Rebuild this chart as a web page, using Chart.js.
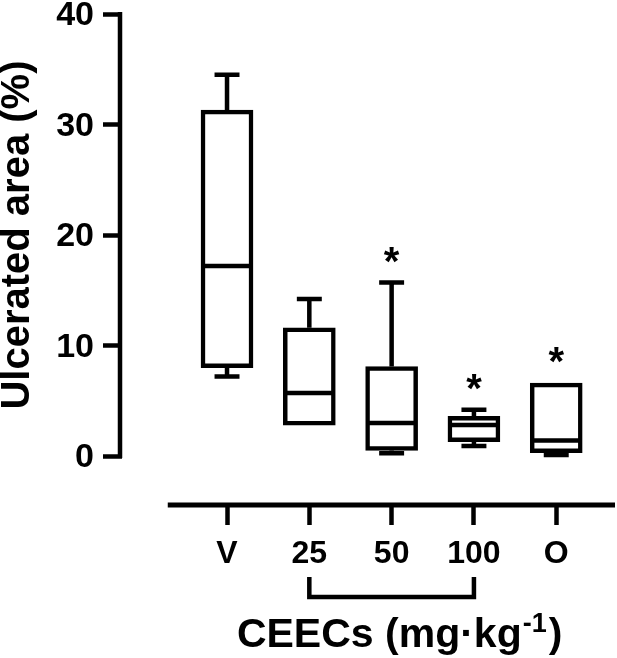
<!DOCTYPE html>
<html>
<head>
<meta charset="utf-8">
<script src="https://cdn.jsdelivr.net/npm/chart.js@4"></script>
<style>
  html, body { margin: 0; padding: 0; background: #fff; }
  #wrap { width: 617px; height: 658px; }
</style>
</head>
<body>
<div id="wrap"><canvas id="c" width="617" height="658"></canvas></div>
<script>
const categories = ['V', '25', '50', '100', 'O'];
const whiskerMax = [34.5, 14.2, 15.7, 4.2, 6.6];
const q3Values = [31.3, 11.6, 8.1, 3.6, 6.6];
const medians = [17.2, 5.7, 3.0, 2.8, 1.4];
const q1Values = [8.0, 2.8, 0.5, 1.3, 0.3];
const whiskerMin = [7.2, 2.8, 0.25, 0.9, 0.1];
const significant = [false, false, true, true, true];
const yTickValues = [0, 10, 20, 30, 40];
const yTitle = 'Ulcerated area (%)';
const xTitleMain = 'CEECs (mg·kg';
const xTitleSup = '-1';
const xTitleEnd = ')';
const bracketGroups = [1, 3];

const FONT = '"Liberation Sans", Arial, Helvetica, sans-serif';
const LW = 4.5;
const Y_MIN = -4.43, Y_MAX = 40;
const X_MIN = -1.276, X_MAX = 4.714, X_AXIS_START = -0.72;

const boxPlugin = {
  id: 'boxPlugin',
  afterDatasetsDraw(chart) {
    const ctx = chart.ctx;
    const xs = chart.scales.x, ys = chart.scales.y;
    const meta = chart.getDatasetMeta(0);
    const area = chart.chartArea;
    ctx.save();
    ctx.strokeStyle = '#000';
    ctx.fillStyle = '#000';
    ctx.lineWidth = LW;
    ctx.lineCap = 'butt';

    // axes
    const y0 = ys.getPixelForValue(0), y40 = ys.getPixelForValue(Y_MAX);
    ctx.beginPath();
    ctx.moveTo(area.left - 2, y0 + 2);
    ctx.lineTo(area.left - 2, y40 - 2);
    ctx.stroke();
    ctx.lineWidth = 5;
    ctx.beginPath();
    ctx.moveTo(xs.getPixelForValue(X_AXIS_START), area.bottom);
    ctx.lineTo(area.right, area.bottom);
    ctx.stroke();
    ctx.lineWidth = LW;

    meta.data.forEach((bar, i) => {
      const cx = bar.x;
      const w = bar.width;
      const cap = w * 0.48;
      const pTop = ys.getPixelForValue(q3Values[i]);
      const pBot = ys.getPixelForValue(q1Values[i]);
      const pMax = ys.getPixelForValue(whiskerMax[i]);
      const pMin = ys.getPixelForValue(whiskerMin[i]);
      const pMed = ys.getPixelForValue(medians[i]);
      ctx.beginPath();
      if (whiskerMax[i] > q3Values[i]) {
        ctx.moveTo(cx, pTop); ctx.lineTo(cx, pMax);
        ctx.moveTo(cx - cap / 2, pMax); ctx.lineTo(cx + cap / 2, pMax);
      }
      if (whiskerMin[i] < q1Values[i]) {
        ctx.moveTo(cx, pBot); ctx.lineTo(cx, pMin);
        ctx.moveTo(cx - cap / 2, pMin); ctx.lineTo(cx + cap / 2, pMin);
      }
      ctx.stroke();
      ctx.beginPath();
      ctx.moveTo(cx - w / 2 + 2, pMed); ctx.lineTo(cx + w / 2 - 2, pMed);
      ctx.stroke();
      if (significant[i]) {
        ctx.font = 'bold 40px ' + FONT;
        ctx.textAlign = 'center';
        ctx.textBaseline = 'alphabetic';
        const m = ctx.measureText('*');
        const target = Math.min(pMax, pTop) - 28;
        ctx.fillText('*', cx, target + (m.actualBoundingBoxAscent - m.actualBoundingBoxDescent) / 2);
      }
    });

    // bracket under 25..100
    const bx1 = xs.getPixelForValue(bracketGroups[0]);
    const bx2 = xs.getPixelForValue(bracketGroups[1]);
    ctx.beginPath();
    ctx.moveTo(bx1, area.bottom + 72);
    ctx.lineTo(bx1, area.bottom + 92);
    ctx.lineTo(bx2, area.bottom + 92);
    ctx.lineTo(bx2, area.bottom + 72);
    ctx.stroke();

    // y title
    ctx.save();
    ctx.font = 'bold 40px ' + FONT;
    ctx.textAlign = 'center';
    ctx.textBaseline = 'middle';
    ctx.translate(area.left - 104, (y0 + y40) / 2);
    ctx.rotate(-Math.PI / 2);
    ctx.fillText(yTitle, 0, 0);
    ctx.restore();

    // x title with superscript
    const mainFont = 'bold 41px ' + FONT;
    const supFont = 'bold 27px ' + FONT;
    ctx.textAlign = 'left';
    ctx.textBaseline = 'alphabetic';
    ctx.font = mainFont;
    const wMain = ctx.measureText(xTitleMain).width;
    const wEnd = ctx.measureText(xTitleEnd).width;
    ctx.font = supFont;
    const wSup = ctx.measureText(xTitleSup).width;
    const total = wMain + 1 + wSup + 2 + wEnd;
    const cxTitle = (xs.getPixelForValue(0) + xs.getPixelForValue(categories.length - 1)) / 2 + 8;
    let tx = cxTitle - total / 2;
    const base = area.bottom + 142;
    ctx.font = mainFont;
    ctx.fillText(xTitleMain, tx, base);
    tx += wMain + 1;
    ctx.font = supFont;
    ctx.fillText(xTitleSup, tx, base - 15);
    tx += wSup + 2;
    ctx.font = mainFont;
    ctx.fillText(xTitleEnd, tx, base);
    ctx.restore();
  }
};

new Chart(document.getElementById('c'), {
  type: 'bar',
  data: {
    datasets: [{
      data: categories.map((c, i) => ({ x: i, y: [q1Values[i], q3Values[i]] })),
      backgroundColor: '#fff',
      borderColor: '#000',
      borderWidth: LW,
      borderSkipped: false,
      barThickness: 52
    }]
  },
  options: {
    responsive: false,
    animation: false,
    layout: { padding: { top: 14, right: 2, left: 0, bottom: 0 } },
    plugins: { legend: { display: false }, tooltip: { enabled: false }, title: { display: false } },
    scales: {
      x: {
        type: 'linear',
        offset: false,
        min: X_MIN, max: X_MAX,
        afterBuildTicks: s => { s.ticks = categories.map((c, i) => ({ value: i })); },
        afterFit: s => { s.height = 153; s.paddingLeft = 0; s.paddingRight = 0; },
        ticks: {
          callback: v => categories[v],
          autoSkip: false, maxRotation: 0,
          color: '#000', padding: 10,
          font: { family: FONT, size: 32, weight: 'bold' }
        },
        grid: { offset: false, drawOnChartArea: false, drawTicks: true, tickLength: 20, tickWidth: LW, tickColor: '#000' },
        border: { display: false }
      },
      y: {
        min: Y_MIN, max: Y_MAX,
        afterBuildTicks: s => { s.ticks = yTickValues.map(v => ({ value: v })); },
        afterFit: s => { s.width = 122; s.paddingTop = 0; s.paddingBottom = 0; },
        ticks: {
          color: '#000', padding: 9, labelOffset: 2,
          font: { family: FONT, size: 34, weight: 'bold' }
        },
        grid: { drawOnChartArea: false, drawTicks: true, tickLength: 19, tickWidth: LW, tickColor: '#000' },
        border: { display: false }
      }
    }
  },
  plugins: [boxPlugin]
});
</script>
</body>
</html>
